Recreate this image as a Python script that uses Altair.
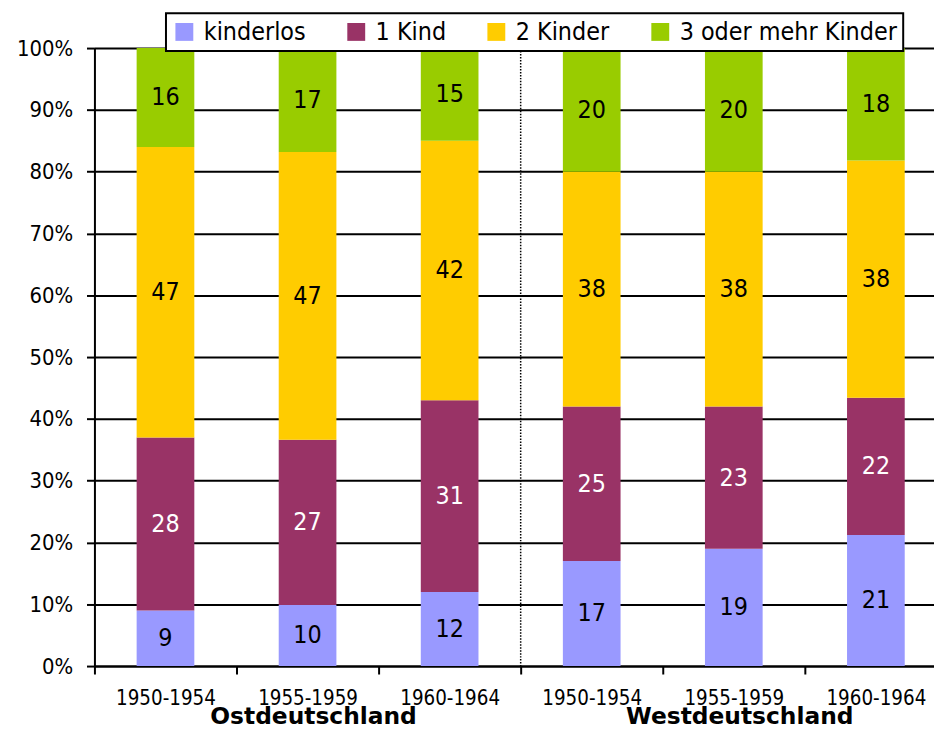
import altair as alt
import pandas as pd

# ---- data ----
periods = ["1950-1954", "1955-1959", "1960-1964"]
regions = ["Ostdeutschland", "Westdeutschland"]
series = ["kinderlos", "1 Kind", "2 Kinder", "3 oder mehr Kinder"]
colors = ["#9999FF", "#993366", "#FFCC00", "#99CC00"]

kinderlos = [9, 10, 12, 17, 19, 21]
ein_kind = [28, 27, 31, 25, 23, 22]
zwei_kinder = [47, 47, 42, 38, 38, 38]
drei_plus = [16, 17, 15, 20, 20, 18]

FONT = "DejaVu Sans Condensed, DejaVu Sans"

keys = [f"{r[:3]} {p}" for r in regions for p in periods]
values_by_series = [kinderlos, ein_kind, zwei_kinder, drei_plus]

rows = []
for si, (s, vals) in enumerate(zip(series, values_by_series)):
    for k, v in zip(keys, vals):
        rows.append({"key": k, "series": s, "order": si, "value": v})
df = pd.DataFrame(rows)

sep_df = pd.DataFrame({"key": [keys[len(periods)]]})
grp_df = pd.DataFrame({"key": [keys[1], keys[4]], "region": regions})

W, H = 845, 622
STEP_RANGE = 858

xscale = alt.Scale(range=[0, STEP_RANGE], paddingInner=0, paddingOuter=0)

base = alt.Chart(df).transform_stack(
    stack="value",
    groupby=["key"],
    sort=[alt.SortField("order")],
    as_=["y0", "y1"],
    offset="normalize",
).transform_calculate(mid="(datum.y0 + datum.y1) / 2")

bars = base.mark_bar(width=alt.RelativeBandSize(0.406)).encode(
    x=alt.X(
        "key:N",
        sort=keys,
        scale=xscale,
        title=None,
        axis=alt.Axis(
            labelExpr="split(datum.label, ' ')[1]",
            labelFont=FONT,
            labelFontSize=20.5,
            labelColor="black",
            labelAngle=0,
            labelPadding=15,
            tickBand="extent",
            tickSize=8,
            tickWidth=2,
            tickColor="black",
            domainColor="black",
            domainWidth=2,
            grid=False,
        ),
    ),
    y=alt.Y(
        "y0:Q",
        scale=alt.Scale(domain=[0, 1], nice=False),
        title=None,
        axis=alt.Axis(
            values=[i / 10 for i in range(11)],
            format=".0%",
            labelFont=FONT,
            labelFontSize=22,
            labelColor="black",
            labelPadding=14,
            tickSize=8,
            tickWidth=2,
            tickColor="black",
            domainColor="black",
            domainWidth=2,
            grid=True,
            gridColor="black",
            gridWidth=2,
        ),
    ),
    y2="y1:Q",
    color=alt.Color(
        "series:N",
        sort=series,
        scale=alt.Scale(domain=series, range=colors),
        legend=alt.Legend(
            orient="none",
            legendX=72,
            legendY=-35,
            direction="horizontal",
            title=None,
            symbolType="square",
            symbolSize=324,
            symbolStrokeWidth=0,
            labelFont=FONT,
            labelFontSize=25,
            labelColor="black",
            labelOffset=7,
            labelLimit=400,
            columnPadding=38,
            padding=6,
            strokeColor="black",
            fillColor="white",
        ),
    ),
)

labels = base.mark_text(font=FONT, fontSize=25, baseline="middle").encode(
    x=alt.X("key:N", sort=keys),
    y=alt.Y("mid:Q"),
    text=alt.Text("value:Q"),
    color=alt.condition(alt.datum.series == "1 Kind", alt.value("white"), alt.value("black")),
)

sep = alt.Chart(sep_df).mark_rule(color="black", strokeWidth=1.5, strokeDash=[1.5, 1.5]).encode(
    x=alt.X("key:N", sort=keys, bandPosition=0),
    y=alt.value(0),
    y2=alt.value(H),
)

groups = alt.Chart(grp_df).mark_text(
    font="DejaVu Sans", fontWeight="bold", fontSize=23.5, baseline="alphabetic",
    color="black", dx=6,
).encode(
    x=alt.X("key:N", sort=keys),
    y=alt.value(680),
    text="region:N",
)

chart = alt.layer(bars, sep, labels, groups).properties(
    width=W,
    height=H,
    autosize=alt.AutoSizeParams(type="none"),
    padding={"left": 87, "top": 38, "right": 0, "bottom": 59},
).configure_view(stroke=None).configure_legend(strokeWidth=2)

chart.save("out.html", embed_options={"renderer": "svg", "actions": False})
